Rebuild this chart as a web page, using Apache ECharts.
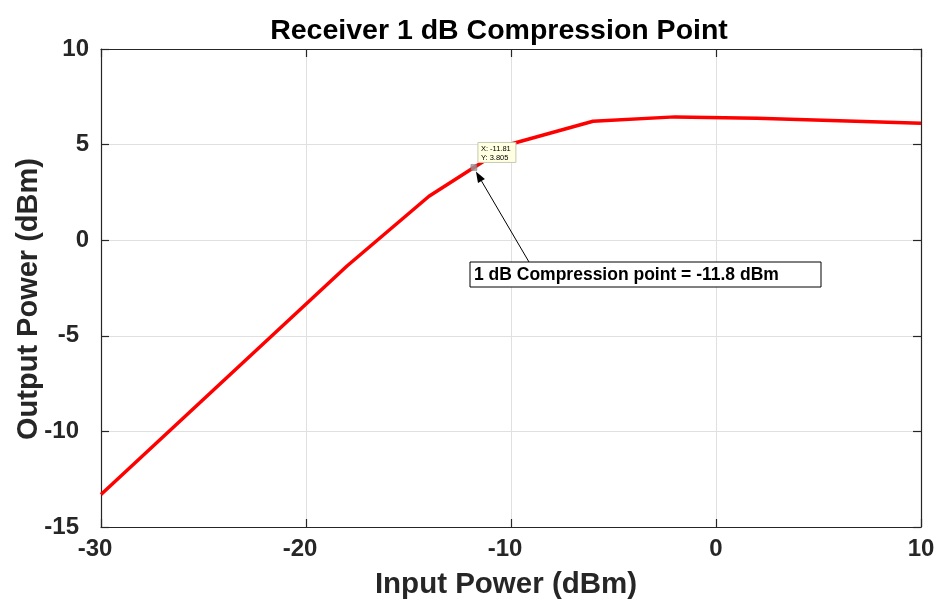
<!DOCTYPE html>
<html>
<head>
<meta charset="utf-8">
<script src="https://cdn.jsdelivr.net/npm/echarts@6/dist/echarts.min.js"></script>
<style>
html,body{margin:0;padding:0;background:#fff;}
#chart{width:938px;height:602px;}
</style>
</head>
<body>
<div id="chart"></div>
<script>
const inputPower = [-30, -18, -14, -11.81, -10, -6, -2, 2, 10];
const outputPower = [-13.3, -1.35, 2.3, 3.805, 5.03, 6.22, 6.45, 6.38, 6.12];
const xTicks = [-30, -20, -10, 0, 10];
const yTicks = [-15, -10, -5, 0, 5, 10];
const tipX = -11.81, tipY = 3.805;
const annotationText = '1 dB Compression point = -11.8 dBm';
const titleText = 'Receiver 1 dB Compression Point';
const xName = 'Input Power (dBm)';
const yName = 'Output Power (dBm)';

const FONT = 'Liberation Sans, Arial, Helvetica, sans-serif';
const chart = echarts.init(document.getElementById('chart'), null, {renderer: 'canvas'});
const data = inputPower.map((x, i) => [x, outputPower[i]]);

const lineCol = '#262626';
function axis(extra) {
  return Object.assign({
    type: 'value',
    axisLine: {show: true, onZero: false, lineStyle: {color: lineCol, width: 1.2}},
    axisTick: {show: true, inside: true, length: 8, lineStyle: {color: lineCol, width: 1.2}},
    splitLine: {show: false},
    axisLabel: {show: false}
  }, extra);
}
const lblBase = {color: lineCol, fontFamily: FONT, fontWeight: 'bold', fontSize: 24};
function lbl(margin, negPad) {
  return Object.assign({}, lblBase, {
    show: true, margin: margin,
    formatter: v => v < 0 ? '{n|' + v + '}' : '{p|' + v + '}',
    rich: {
      n: Object.assign({}, lblBase, {padding: [0, negPad, 0, 0]}),
      p: Object.assign({}, lblBase)
    }
  });
}

chart.setOption({
  animation: false,
  backgroundColor: '#fff',
  title: {
    text: titleText,
    left: 494, top: 12, textAlign: 'center',
    textStyle: {fontFamily: FONT, fontWeight: 'bold', fontSize: 28.5, color: '#000'}
  },
  grid: {left: 101, right: 17, top: 49, bottom: 75},
  xAxis: [
    axis({min: xTicks[0], max: xTicks[xTicks.length - 1], interval: 10, position: 'bottom',
      splitLine: {show: true, lineStyle: {color: '#e0e0e0', width: 1}},
      axisLabel: lbl(10, 12)}),
    axis({min: xTicks[0], max: xTicks[xTicks.length - 1], interval: 10, position: 'top'})
  ],
  yAxis: [
    axis({min: yTicks[0], max: yTicks[yTicks.length - 1], interval: 5, position: 'left',
      splitLine: {show: true, lineStyle: {color: '#e0e0e0', width: 1}},
      axisLabel: lbl(12, 10)}),
    axis({min: yTicks[0], max: yTicks[yTicks.length - 1], interval: 5, position: 'right'})
  ],
  series: [{
    type: 'line',
    data: data,
    symbol: 'none',
    lineStyle: {color: '#ff0000', width: 3.5},
    z: 3
  }, {
    type: 'scatter',
    data: [[tipX, tipY]],
    symbol: 'rect', symbolSize: 6,
    itemStyle: {color: '#999', borderColor: '#666', borderWidth: 0.5},
    z: 5
  }]
});

const p = chart.convertToPixel({gridIndex: 0}, [tipX, tipY]);
const boxX = 470, boxY = 262, boxW = 351, boxH = 25;
const arrStart = [529, boxY];
const arrEnd = [p[0] + 2, p[1] + 4];
const ang = Math.atan2(arrEnd[1] - arrStart[1], arrEnd[0] - arrStart[0]);
const ah = 11, aw = 4;
const bx = arrEnd[0] - ah * Math.cos(ang), by = arrEnd[1] - ah * Math.sin(ang);
const px = -Math.sin(ang) * aw, py = Math.cos(ang) * aw;

chart.setOption({
  graphic: [
    {type: 'text', x: 506, y: 585,
     style: {text: xName, font: 'bold 29.5px ' + FONT, fill: lineCol, textAlign: 'center', textVerticalAlign: 'middle'}},
    {type: 'text', x: 29, y: 299, rotation: Math.PI / 2,
     style: {text: yName, font: 'bold 29px ' + FONT, fill: lineCol, textAlign: 'center', textVerticalAlign: 'middle'}},
    {type: 'rect', shape: {x: p[0] + 4, y: p[1] - 25, width: 38, height: 20},
     style: {fill: '#ffffe1', stroke: '#c8c8b4', lineWidth: 1}, z: 10},
    {type: 'text', x: p[0] + 7, y: p[1] - 23,
     style: {text: 'X: -11.81\nY: 3.805', font: '7.5px ' + FONT, fill: '#000', lineHeight: 9}, z: 11},
    {type: 'line', shape: {x1: arrStart[0], y1: arrStart[1], x2: bx, y2: by},
     style: {stroke: '#000', lineWidth: 1}, z: 10},
    {type: 'polygon', shape: {points: [[arrEnd[0], arrEnd[1]], [bx + px, by + py], [bx - px, by - py]]},
     style: {fill: '#000'}, z: 10},
    {type: 'rect', shape: {x: boxX, y: boxY, width: boxW, height: boxH},
     style: {fill: '#fff', stroke: '#000', lineWidth: 1}, z: 10},
    {type: 'text', x: boxX + 4, y: boxY + boxH / 2 + 1,
     style: {text: annotationText, font: 'bold 17.5px ' + FONT, fill: '#000', textVerticalAlign: 'middle'}, z: 11}
  ]
});
</script>
</body>
</html>
